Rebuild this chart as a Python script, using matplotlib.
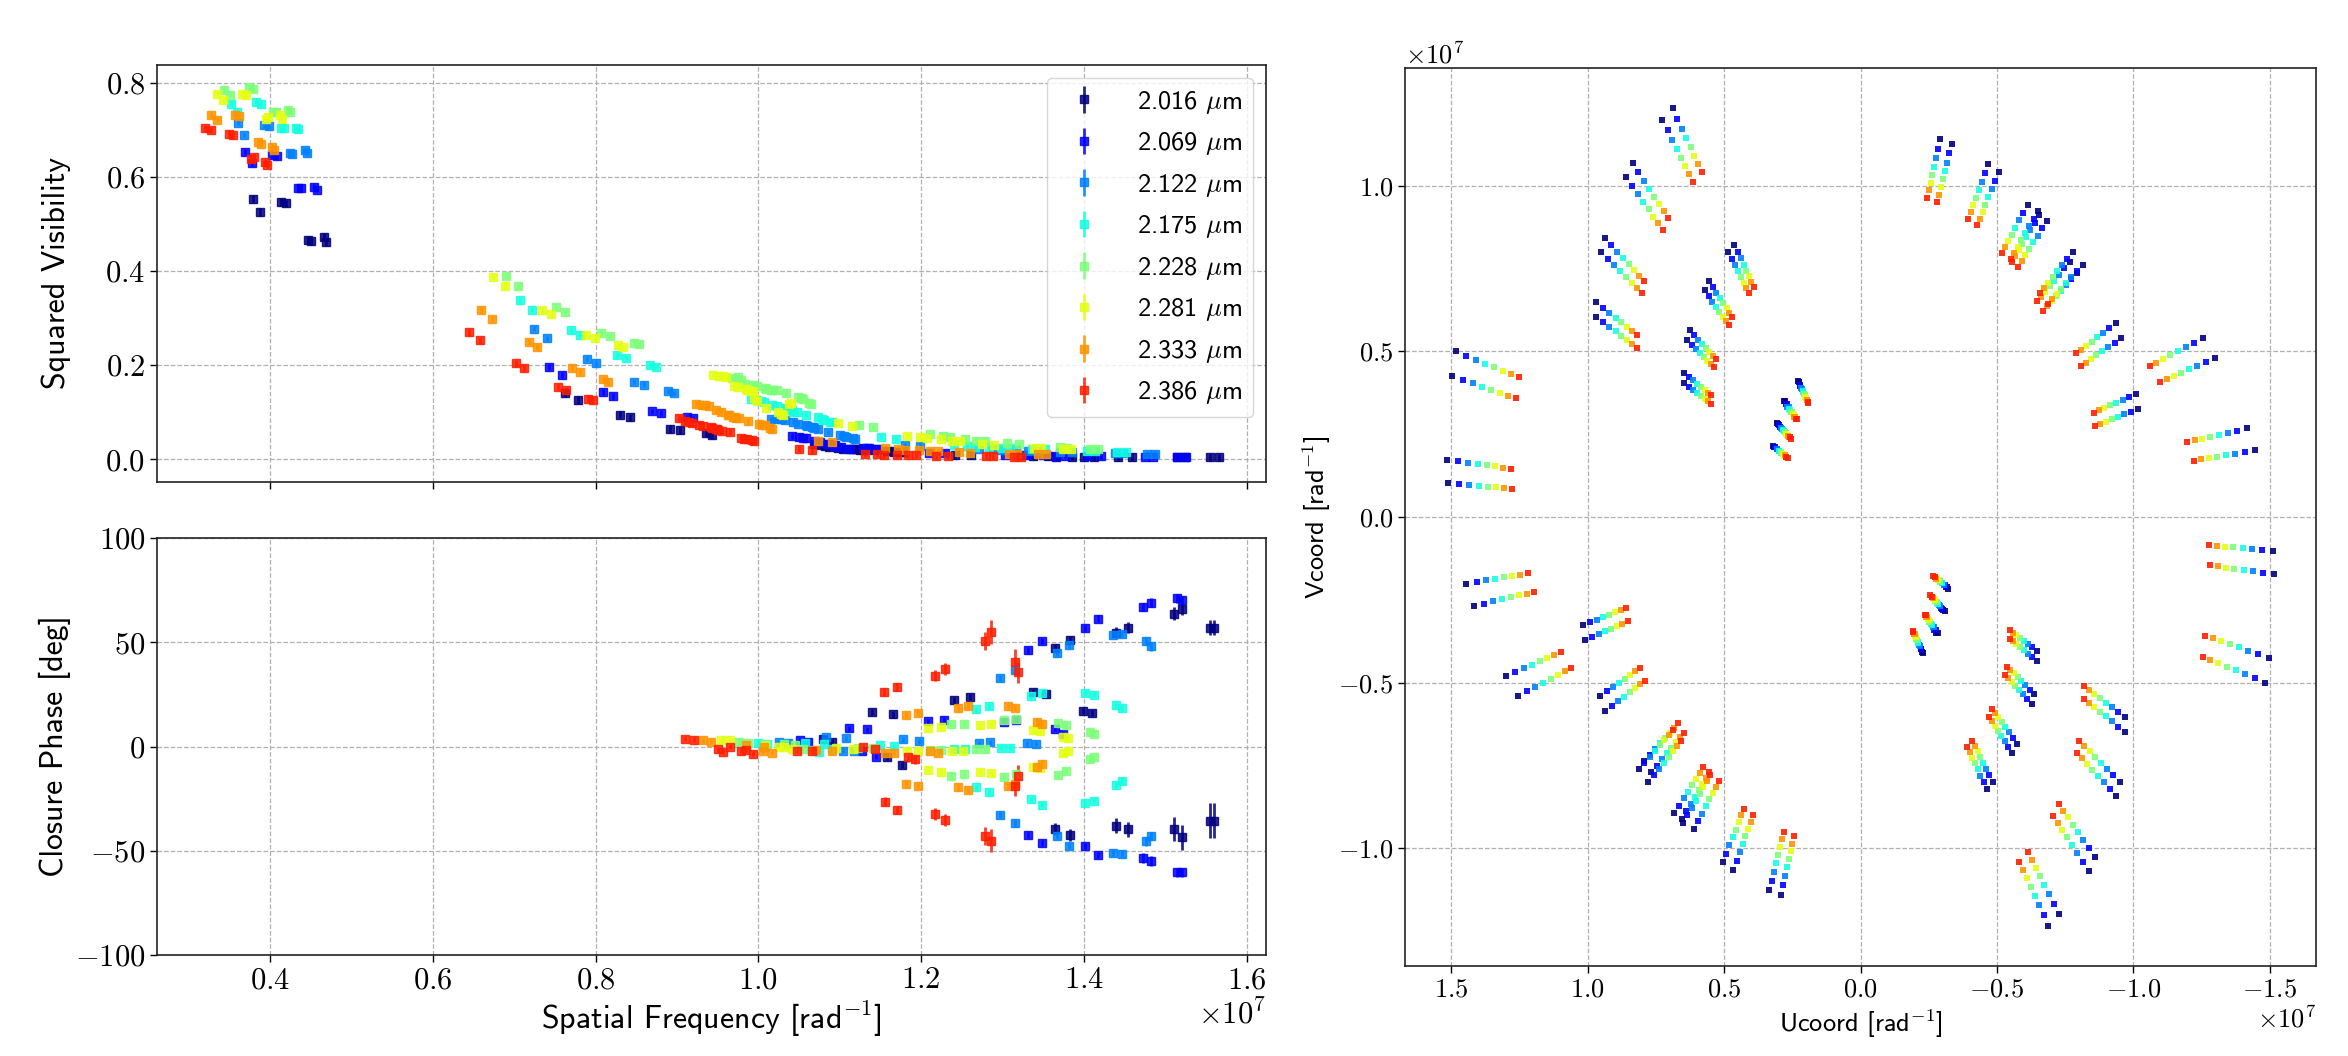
#!/usr/bin/env python3

import matplotlib
matplotlib.use('Agg')
import matplotlib.pyplot as plt
import numpy as np

# fonts: CM serif ticks, CM sans labels (bundled with matplotlib)
plt.rcParams['font.family'] = 'serif'
plt.rcParams['font.serif'] = ['cmr10']
plt.rcParams['mathtext.fontset'] = 'cm'
plt.rcParams['axes.formatter.use_mathtext'] = True

# wavelength channels [micron]
WAVE = [2.016, 2.069, 2.122, 2.175, 2.228, 2.281, 2.333, 2.386]

# projected baselines [m], one row per track
BASE_U = [29.92, 30.16, 30.54, 30.46, 13.89, 14.64, 16.85, 17.32, 18.91, 19.15,
          19.54, 19.54, 11.21, 11.53, 9.33, 9.78, 12.64, 12.82, 13.04, 13.04,
          4.56, 4.62, 5.60, 5.69, 6.11, 6.21, 6.37, 6.49,
          -5.85, -6.73, -9.41, -10.20, -12.34, -13.14, -13.22, -13.77,
          -15.68, -15.46, -16.41, -15.97, -18.87, -19.27, -25.30, -26.19,
          -20.38, -20.52, -28.57, -29.13]
BASE_V = [10.07, 8.55, 3.48, 2.04, 24.86, 24.15, 21.53, 20.68, 17.00, 16.13,
          13.08, 12.18, 14.37, 13.79, 16.57, 16.13, 11.35, 10.77, 8.75, 8.14,
          8.21, 8.25, 7.04, 7.06, 5.65, 5.73, 4.23, 4.35,
          23.00, 22.70, 21.47, 21.01, 18.99, 18.61, 18.35, 18.02,
          16.13, 15.52, 15.34, 14.86, 11.79, 10.87, 10.87, 9.70,
          7.50, 6.57, 5.40, 4.05]

# squared visibility per track (columns follow WAVE)
V2 = [
    [0.004, 0.006, 0.012, 0.015, 0.021, 0.021, 0.011, 0.006],
    [0.004, 0.006, 0.012, 0.016, 0.022, 0.022, 0.011, 0.006],
    [0.004, 0.006, 0.013, 0.017, 0.025, 0.024, 0.012, 0.007],
    [0.004, 0.006, 0.013, 0.018, 0.026, 0.025, 0.012, 0.007],
    [0.005, 0.008, 0.017, 0.024, 0.038, 0.038, 0.017, 0.009],
    [0.006, 0.008, 0.018, 0.025, 0.040, 0.040, 0.018, 0.009],
    [0.007, 0.010, 0.021, 0.028, 0.050, 0.048, 0.023, 0.011],
    [0.007, 0.010, 0.022, 0.030, 0.053, 0.050, 0.025, 0.012],
    [0.009, 0.013, 0.029, 0.044, 0.069, 0.070, 0.037, 0.019],
    [0.010, 0.014, 0.030, 0.048, 0.074, 0.077, 0.040, 0.023],
    [0.016, 0.024, 0.047, 0.084, 0.128, 0.094, 0.072, 0.043],
    [0.019, 0.022, 0.058, 0.095, 0.140, 0.110, 0.082, 0.058],
    [0.062, 0.099, 0.159, 0.216, 0.262, 0.257, 0.186, 0.147],
    [0.065, 0.102, 0.165, 0.221, 0.269, 0.264, 0.194, 0.154],
    [0.051, 0.087, 0.141, 0.196, 0.245, 0.239, 0.165, 0.126],
    [0.055, 0.089, 0.145, 0.200, 0.248, 0.243, 0.170, 0.129],
    [0.089, 0.135, 0.204, 0.265, 0.313, 0.308, 0.239, 0.194],
    [0.095, 0.143, 0.214, 0.274, 0.323, 0.318, 0.250, 0.204],
    [0.126, 0.179, 0.257, 0.318, 0.368, 0.368, 0.299, 0.253],
    [0.140, 0.196, 0.278, 0.338, 0.389, 0.388, 0.318, 0.270],
    [0.473, 0.579, 0.657, 0.703, 0.742, 0.731, 0.664, 0.632],
    [0.462, 0.573, 0.650, 0.701, 0.738, 0.724, 0.657, 0.625],
    [0.466, 0.576, 0.650, 0.703, 0.738, 0.724, 0.675, 0.639],
    [0.464, 0.576, 0.648, 0.703, 0.738, 0.728, 0.671, 0.643],
    [0.547, 0.646, 0.710, 0.760, 0.791, 0.777, 0.731, 0.692],
    [0.544, 0.644, 0.708, 0.756, 0.786, 0.774, 0.729, 0.689],
    [0.553, 0.653, 0.715, 0.756, 0.784, 0.777, 0.731, 0.703],
    [0.526, 0.629, 0.689, 0.738, 0.774, 0.763, 0.722, 0.700],
    [0.015, 0.021, 0.044, 0.079, 0.118, 0.120, 0.064, 0.040],
    [0.015, 0.022, 0.045, 0.080, 0.120, 0.118, 0.066, 0.041],
    [0.017, 0.025, 0.049, 0.086, 0.130, 0.096, 0.074, 0.044],
    [0.017, 0.025, 0.051, 0.089, 0.133, 0.100, 0.076, 0.045],
    [0.021, 0.030, 0.068, 0.104, 0.148, 0.146, 0.090, 0.064],
    [0.020, 0.026, 0.065, 0.100, 0.147, 0.125, 0.087, 0.061],
    [0.021, 0.030, 0.068, 0.104, 0.148, 0.146, 0.091, 0.065],
    [0.020, 0.027, 0.066, 0.101, 0.147, 0.130, 0.088, 0.062],
    [0.022, 0.032, 0.071, 0.108, 0.150, 0.148, 0.094, 0.067],
    [0.027, 0.045, 0.083, 0.122, 0.160, 0.176, 0.113, 0.077],
    [0.022, 0.033, 0.072, 0.109, 0.152, 0.149, 0.095, 0.068],
    [0.028, 0.046, 0.085, 0.125, 0.168, 0.177, 0.115, 0.080],
    [0.023, 0.037, 0.076, 0.113, 0.155, 0.153, 0.101, 0.070],
    [0.024, 0.040, 0.080, 0.115, 0.157, 0.155, 0.105, 0.072],
    [0.006, 0.009, 0.020, 0.027, 0.047, 0.045, 0.020, 0.010],
    [0.006, 0.009, 0.019, 0.026, 0.044, 0.043, 0.019, 0.010],
    [0.030, 0.048, 0.086, 0.127, 0.175, 0.178, 0.116, 0.082],
    [0.032, 0.050, 0.085, 0.128, 0.172, 0.179, 0.118, 0.087],
    [0.005, 0.007, 0.016, 0.022, 0.034, 0.033, 0.015, 0.008],
    [0.005, 0.007, 0.015, 0.021, 0.032, 0.031, 0.014, 0.008],
]
V2_ERR = [0.008, 0.006, 0.005, 0.005, 0.005, 0.005, 0.006, 0.007]

# closure phases: spatial frequency [1e7 rad^-1], phase and error [deg]
CP_FREQ = [
    [1.079, 1.091, 1.140, 1.166, 1.158, 1.176, 1.240, 1.260, 1.338, 1.353, 1.365, 1.383, 1.365, 1.383,
     1.399, 1.410, 1.439, 1.454, 1.439, 1.454, 1.511, 1.521, 1.511, 1.521, 1.555, 1.560, 1.555, 1.560],
    [1.051, 1.061, 1.111, 1.134, 1.127, 1.145, 1.209, 1.228, 1.302, 1.317, 1.331, 1.349, 1.331, 1.349,
     1.364, 1.375, 1.402, 1.417, 1.402, 1.417, 1.473, 1.483, 1.473, 1.483, 1.514, 1.521, 1.514, 1.521],
    [1.025, 1.036, 1.083, 1.108, 1.104, 1.118, 1.178, 1.197, 1.271, 1.285, 1.297, 1.315, 1.297, 1.315,
     1.330, 1.341, 1.367, 1.382, 1.367, 1.382, 1.436, 1.447, 1.436, 1.447, 1.477, 1.483, 1.477, 1.483],
    [1.000, 1.011, 1.057, 1.081, 1.075, 1.090, 1.149, 1.167, 1.240, 1.254, 1.267, 1.284, 1.267, 1.284,
     1.298, 1.309, 1.335, 1.349, 1.335, 1.349, 1.401, 1.412, 1.401, 1.412, 1.440, 1.447, 1.440, 1.447],
    [0.976, 0.987, 1.032, 1.045, 1.055, 1.069, 1.122, 1.141, 1.211, 1.224, 1.237, 1.253, 1.237, 1.253,
     1.268, 1.278, 1.302, 1.317, 1.302, 1.317, 1.368, 1.378, 1.368, 1.378, 1.408, 1.412, 1.408, 1.412],
    [0.954, 0.965, 1.008, 1.031, 1.025, 1.041, 1.096, 1.116, 1.183, 1.196, 1.209, 1.224, 1.209, 1.224,
     1.238, 1.252, 1.272, 1.286, 1.272, 1.286, 1.337, 1.346, 1.337, 1.346, 1.375, 1.380, 1.375, 1.380],
    [0.932, 0.942, 0.985, 1.007, 1.006, 1.017, 1.071, 1.090, 1.156, 1.167, 1.182, 1.196, 1.182, 1.196,
     1.211, 1.221, 1.245, 1.258, 1.245, 1.258, 1.307, 1.316, 1.307, 1.316, 1.342, 1.349, 1.342, 1.349],
    [0.910, 0.921, 0.950, 0.957, 0.965, 0.985, 0.979, 0.994, 1.048, 1.066, 1.129, 1.143, 1.155, 1.170,
     1.156, 1.170, 1.184, 1.193, 1.217, 1.230, 1.217, 1.230, 1.278, 1.286, 1.278, 1.286, 1.315, 1.319,
     1.315, 1.319],
]
CP_DEG = [
    [3.7, 2.1, 16.5, 15.4, -5.1, -8.7, 22.1, 23.7, 26.1, 25.3, 47.3, 51.0, -39.6, -42.3,
     17.0, 16.0, 54.6, 57.0, -38.0, -39.6, 63.8, 66.0, -39.6, -43.6, 57.0, 57.0, -35.6, -35.6],
    [2.9, 2.1, 8.8, 8.2, -1.9, -4.8, 12.2, 12.8, 11.7, 12.5, 46.1, 50.6, -42.3, -46.2,
     8.5, 6.1, 57.0, 61.4, -47.6, -51.9, 67.0, 69.0, -53.5, -54.8, 71.0, 70.2, -60.4, -60.4],
    [2.1, 1.6, 4.5, 4.0, -1.9, -1.9, 3.4, 2.6, 1.6, 2.1, 33.0, 36.9, -32.9, -36.9,
     1.6, 1.3, 45.0, 48.9, -42.8, -47.6, 53.4, 53.8, -51.1, -51.3, 50.6, 48.0, -45.5, -42.8],
    [1.6, 1.0, 1.5, 1.0, -2.4, -1.4, 0.5, 0.2, -1.0, -1.0, 17.8, 19.4, -19.6, -22.0,
     -0.6, -0.6, 24.2, 25.6, -25.2, -27.9, 25.8, 24.8, -27.2, -26.0, 19.7, 18.4, -18.4, -16.3],
    [2.1, 1.6, 1.0, 0.5, -1.1, -1.6, -0.5, -0.8, -1.5, -1.5, 10.6, 10.9, -13.9, -13.1,
     -1.4, -1.4, 12.5, 13.0, -14.4, -13.1, 11.2, 10.1, -13.5, -11.5, 6.9, 6.1, -5.9, -5.1],
    [2.9, 2.9, 0.5, 0.0, -0.3, -1.1, -0.8, -1.1, -2.0, -2.0, 8.8, 9.3, -11.2, -12.3,
     -1.9, -1.9, 10.1, 10.6, -12.0, -12.7, 8.0, 7.4, -9.9, -10.3, 4.8, 4.2, -3.0, -1.9],
    [2.9, 2.4, 0.5, 0.0, -1.9, -3.0, -1.5, -1.9, -3.0, -3.0, 15.2, 16.0, -18.0, -19.0,
     -1.9, -3.0, 18.4, 19.6, -19.6, -20.8, 19.6, 18.4, -19.0, -18.0, 11.7, 10.9, -9.9, -8.3],
    [3.7, 3.2, -1.4, -2.4, 0.0, -1.6, -1.9, -3.5, -1.9, -1.9, -0.3, -1.0, 26.0, 28.5,
     -26.4, -30.4, -5.1, -5.9, 34.0, 37.3, -32.4, -35.3, 50.6, 55.0, -42.8, -45.2, 40.5, 35.7,
     -18.8, -13.9],
]
CP_ERR = [
    [1.5, 1.5, 1.5, 1.5, 1.5, 1.5, 1.5, 1.5, 1.5, 1.5, 2.0, 2.0, 2.8, 2.8,
     1.5, 1.5, 2.5, 2.5, 3.6, 3.6, 3.0, 3.0, 5.6, 5.8, 3.6, 3.6, 8.5, 8.5],
    [1.2, 1.2, 1.2, 1.2, 1.2, 1.2, 1.2, 1.2, 1.2, 1.2, 1.5, 1.5, 1.5, 1.5,
     1.2, 1.2, 1.5, 1.5, 1.5, 1.5, 2.0, 2.0, 2.5, 2.5, 2.0, 2.0, 2.0, 2.0],
    [1.2, 1.2, 1.2, 1.2, 1.2, 1.2, 1.2, 1.2, 1.2, 1.2, 1.5, 1.5, 1.5, 1.5,
     1.2, 1.2, 1.5, 1.5, 1.5, 1.5, 1.5, 1.5, 1.5, 1.5, 2.0, 2.0, 2.0, 2.0],
    [1.2, 1.2, 1.2, 1.2, 1.2, 1.2, 1.2, 1.2, 1.2, 1.2, 1.2, 1.2, 1.2, 1.2,
     1.2, 1.2, 1.2, 1.2, 1.2, 1.2, 1.2, 1.2, 1.2, 1.2, 1.5, 1.5, 1.5, 1.5],
    [1.2, 1.2, 1.2, 1.2, 1.2, 1.2, 1.2, 1.2, 1.2, 1.2, 1.2, 1.2, 1.2, 1.2,
     1.2, 1.2, 1.2, 1.2, 1.2, 1.2, 1.2, 1.2, 1.2, 1.2, 1.5, 1.5, 1.5, 1.5],
    [1.2, 1.2, 1.2, 1.2, 1.2, 1.2, 1.2, 1.2, 1.2, 1.2, 1.2, 1.2, 1.2, 1.2,
     1.2, 1.2, 1.2, 1.2, 1.2, 1.2, 1.2, 1.2, 1.2, 1.2, 1.5, 1.5, 1.5, 1.5],
    [1.2, 1.2, 1.2, 1.2, 1.2, 1.2, 1.2, 1.2, 1.2, 1.2, 1.5, 1.5, 1.5, 1.5,
     1.2, 1.2, 1.5, 1.5, 1.5, 1.5, 1.5, 1.5, 1.5, 1.5, 2.0, 2.0, 2.0, 2.0],
    [1.2, 1.2, 1.2, 1.2, 1.2, 1.2, 1.2, 1.2, 1.2, 1.2, 1.5, 1.5, 2.0, 2.0,
     2.0, 2.0, 2.5, 2.5, 2.8, 2.8, 2.8, 2.8, 4.4, 5.6, 4.4, 5.6, 6.4, 5.0,
     5.0, 5.0],
]

MS_VIS = 5.5
MS_UV = 4.3


def style_axes(ax, tick_size):
	ax.grid(True, ls='--', color='#b0b0b0', lw=0.9)
	ax.set_axisbelow(True)
	ax.tick_params(labelsize=tick_size, width=1.0, length=5)
	ax.xaxis.get_offset_text().set_fontsize(tick_size)
	ax.yaxis.get_offset_text().set_fontsize(tick_size)
	for s in ax.spines.values():
		s.set_color('#222222')
		s.set_linewidth(1.2)


def main():
	colors = [plt.cm.jet(i / len(WAVE)) for i in range(len(WAVE))]
	bu = np.array(BASE_U)
	bv = np.array(BASE_V)
	v2 = np.array(V2)

	fig = plt.figure(figsize=(23.48, 10.56), dpi=100)
	ax_v2 = fig.add_axes([0.0669, 0.5436, 0.4723, 0.3949])
	ax_cp = fig.add_axes([0.0669, 0.0956, 0.4723, 0.3949], sharex=ax_v2)
	ax_uv = fig.add_axes([0.5984, 0.0852, 0.3880, 0.8504])

	for i, lam in enumerate(WAVE):
		u = bu / (lam * 1e-6)
		v = bv / (lam * 1e-6)
		freq = np.hypot(u, v)
		ax_v2.errorbar(freq, v2[:, i], yerr=V2_ERR[i], fmt='s', ms=MS_VIS,
		               color=colors[i], elinewidth=2, capsize=0, alpha=0.85,
		               label=r'%.3f $\mu$m' % lam)
		ax_cp.errorbar(np.array(CP_FREQ[i]) * 1e7, CP_DEG[i], yerr=CP_ERR[i],
		               fmt='s', ms=MS_VIS, color=colors[i], elinewidth=2,
		               capsize=0, alpha=0.85)
		ax_uv.plot(u, v, 's', ms=MS_UV, color=colors[i], alpha=0.9, mew=0)
		ax_uv.plot(-u, -v, 's', ms=MS_UV, color=colors[i], alpha=0.9, mew=0)

	# visibility panel
	ax_v2.set_xlim(0.261e7, 1.624e7)
	ax_v2.set_ylim(-0.048, 0.838)
	ax_v2.set_xticks(np.arange(0.4, 1.7, 0.2) * 1e7)
	ax_v2.set_yticks([0.0, 0.2, 0.4, 0.6, 0.8])
	ax_v2.set_ylabel('Squared Visibility', family='cmss10', fontsize=23, labelpad=22)
	ax_v2.tick_params(labelbottom=False)
	style_axes(ax_v2, 22)
	ax_v2.xaxis.get_offset_text().set_visible(False)
	ax_v2.legend(loc='upper right', prop={'family': 'cmss10', 'size': 19},
	             labelspacing=0.55, handletextpad=1.0)

	# closure phase panel
	ax_cp.set_ylim(-100, 100)
	ax_cp.set_yticks([-100, -50, 0, 50, 100])
	ax_cp.set_ylabel('Closure Phase [deg]', family='cmss10', fontsize=23, labelpad=10)
	ax_cp.set_xlabel(r'Spatial Frequency [rad$^{-1}$]', family='cmss10', fontsize=23)
	style_axes(ax_cp, 22)
	ax_v2.yaxis.set_label_coords(-0.078, 0.5)
	ax_cp.yaxis.set_label_coords(-0.078, 0.5)

	# uv coverage
	ax_uv.set_xlim(1.67e7, -1.67e7)
	ax_uv.set_ylim(-1.355e7, 1.355e7)
	ax_uv.set_xticks(np.arange(-1.5, 1.6, 0.5) * 1e7)
	ax_uv.set_yticks(np.arange(-1.0, 1.1, 0.5) * 1e7)
	ax_uv.set_xlabel(r'Ucoord [rad$^{-1}$]', family='cmss10', fontsize=19)
	ax_uv.set_ylabel(r'Vcoord [rad$^{-1}$]', family='cmss10', fontsize=19)
	style_axes(ax_uv, 19)

	fig.savefig('out.png', dpi=100)


main()
